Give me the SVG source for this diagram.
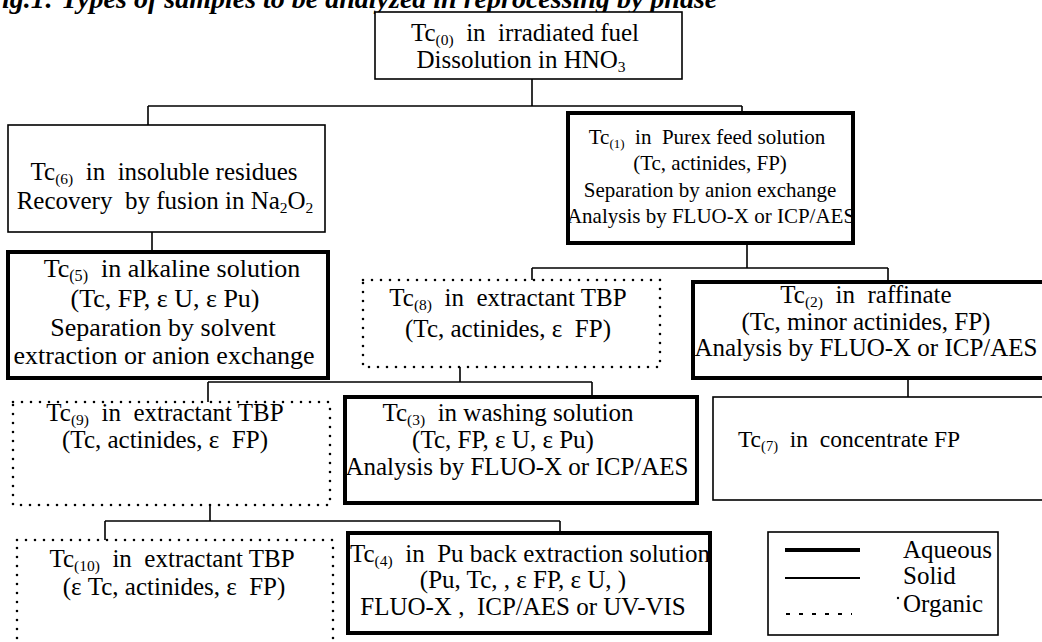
<svg xmlns="http://www.w3.org/2000/svg" width="1042" height="642" viewBox="0 0 1042 642">
<style>
text { font-family: "Liberation Serif", "Times New Roman", serif; font-size: 25px; fill: #000; white-space: pre; }
.c { text-anchor: middle; }
.sub { font-size: 62%; }
.s21 { font-size: 21px; }
.s26 { font-size: 26px; }
.s235 { font-size: 23.5px; }
.thin { fill: #fff; stroke: #000; stroke-width: 1.6; }
.thick { fill: #fff; stroke: #000; stroke-width: 4; }
.dot { fill: #fff; stroke: #000; stroke-width: 2.6; stroke-dasharray: 0 9; stroke-linecap: round; }
.conn { fill: none; stroke: #000; stroke-width: 1.6; }
.title { font-style: italic; font-weight: bold; font-size: 28px; }
</style>
<rect width="1042" height="642" fill="#fff"/>
<text class="title" x="2" y="8">ig.1: Types of samples to be analyzed in reprocessing by phase</text>

<g id="connectors">
<path class="conn" d="M532,79 V106 M148,106 H742 M148,106 V125 M742,106 V113"/>
<path class="conn" d="M152,232 V252"/>
<path class="conn" d="M747,243 V268 M532,268 H888 M532,268 V280 M888,268 V282"/>
<path class="conn" d="M908,378 V397"/>
<path class="conn" d="M460,367 V382 M208,382 H592 M208,382 V402 M592,382 V397"/>
<path class="conn" d="M210,505 V521 M105,521 H560 M105,521 V540 M560,521 V533"/>
</g>

<g id="node0">
<rect class="thin" x="375" y="12" width="307" height="67"/>
<text class="c" x="525" y="41">Tc<tspan class="sub" dy="4">(0)</tspan><tspan dy="-4">  in  irradiated fuel</tspan></text>
<text class="c" x="521" y="68">Dissolution in HNO<tspan class="sub" dy="4">3</tspan></text>
</g>

<g id="node6">
<rect class="thin" x="8" y="125" width="317" height="107"/>
<text class="c" x="164" y="180">Tc<tspan class="sub" dy="4">(6)</tspan><tspan dy="-4">  in  insoluble residues</tspan></text>
<text class="c" x="165" y="209">Recovery  by fusion in Na<tspan class="sub" dy="4">2</tspan><tspan dy="-4">O</tspan><tspan class="sub" dy="4">2</tspan></text>
</g>

<g id="node5">
<rect class="thick" x="8" y="252" width="320" height="126"/>
<text class="c s26" x="172" y="277">Tc<tspan class="sub" dy="4">(5)</tspan><tspan dy="-4">  in alkaline solution</tspan></text>
<text class="c s26" x="165" y="307">(Tc, FP, ε U, ε Pu)</text>
<text class="c s26" x="163" y="336">Separation by solvent</text>
<text class="c s26" x="164" y="364">extraction or anion exchange</text>
</g>

<g id="node1">
<rect class="thick" x="568" y="113" width="285" height="130"/>
<text class="c s21" x="707" y="144">Tc<tspan class="sub" dy="4">(1)</tspan><tspan dy="-4">  in  Purex feed solution</tspan></text>
<text class="c s21" x="710" y="170">(Tc, actinides, FP)</text>
<text class="c s21" x="710" y="197">Separation by anion exchange</text>
<text class="c s21" x="711" y="223">Analysis by FLUO-X or ICP/AES</text>
</g>

<g id="node8">
<rect class="dot" x="363" y="280" width="297" height="87"/>
<text class="c" x="508" y="306">Tc<tspan class="sub" dy="4">(8)</tspan><tspan dy="-4">  in  extractant TBP</tspan></text>
<text class="c" x="508" y="337">(Tc, actinides, ε  FP)</text>
</g>

<g id="node2">
<rect class="thick" x="693" y="282" width="360" height="96"/>
<text class="c" x="866" y="303">Tc<tspan class="sub" dy="4">(2)</tspan><tspan dy="-4">  in  raffinate</tspan></text>
<text class="c" x="866" y="330">(Tc, minor actinides, FP)</text>
<text class="c" x="866" y="356">Analysis by FLUO-X or ICP/AES</text>
</g>

<g id="node7">
<rect class="thin" x="713" y="397" width="340" height="103"/>
<text class="c s235" x="849" y="447">Tc<tspan class="sub" dy="4">(7)</tspan><tspan dy="-4">  in  concentrate FP</tspan></text>
</g>

<g id="node9">
<rect class="dot" x="13" y="402" width="317" height="103"/>
<text class="c" x="165" y="421">Tc<tspan class="sub" dy="4">(9)</tspan><tspan dy="-4">  in  extractant TBP</tspan></text>
<text class="c" x="165" y="448">(Tc, actinides, ε  FP)</text>
</g>

<g id="node3">
<rect class="thick" x="345" y="397" width="352" height="106"/>
<text class="c" x="508" y="421">Tc<tspan class="sub" dy="4">(3)</tspan><tspan dy="-4">  in washing solution</tspan></text>
<text class="c" x="503" y="448">(Tc, FP, ε U, ε Pu)</text>
<text class="c" x="517" y="475">Analysis by FLUO-X or ICP/AES</text>
</g>

<g id="node10">
<rect class="dot" x="17" y="540" width="316" height="120"/>
<text class="c" x="172" y="567">Tc<tspan class="sub" dy="4">(10)</tspan><tspan dy="-4">  in  extractant TBP</tspan></text>
<text class="c" x="174" y="595">(ε Tc, actinides, ε  FP)</text>
</g>

<g id="node4">
<rect class="thick" x="348" y="533" width="362" height="100"/>
<text class="c" x="530" y="562">Tc<tspan class="sub" dy="4">(4)</tspan><tspan dy="-4">  in  Pu back extraction solution</tspan></text>
<text class="c" x="523" y="588">(Pu, Tc, , ε FP, ε U, )</text>
<text class="c" x="523" y="615">FLUO-X ,  ICP/AES or UV-VIS</text>
</g>

<g id="legend">
<rect class="thin" x="768" y="532" width="230" height="103"/>
<line x1="785" y1="550" x2="860" y2="550" stroke="#000" stroke-width="4"/>
<line x1="785" y1="578" x2="860" y2="578" stroke="#000" stroke-width="2"/>
<line x1="786" y1="614" x2="852" y2="614" stroke="#000" stroke-width="2" stroke-dasharray="4 9"/>
<circle cx="898" cy="598" r="1.2" fill="#000"/>
<text x="903" y="558">Aqueous</text>
<text x="903" y="584">Solid</text>
<text x="903" y="612">Organic</text>
</g>
</svg>
